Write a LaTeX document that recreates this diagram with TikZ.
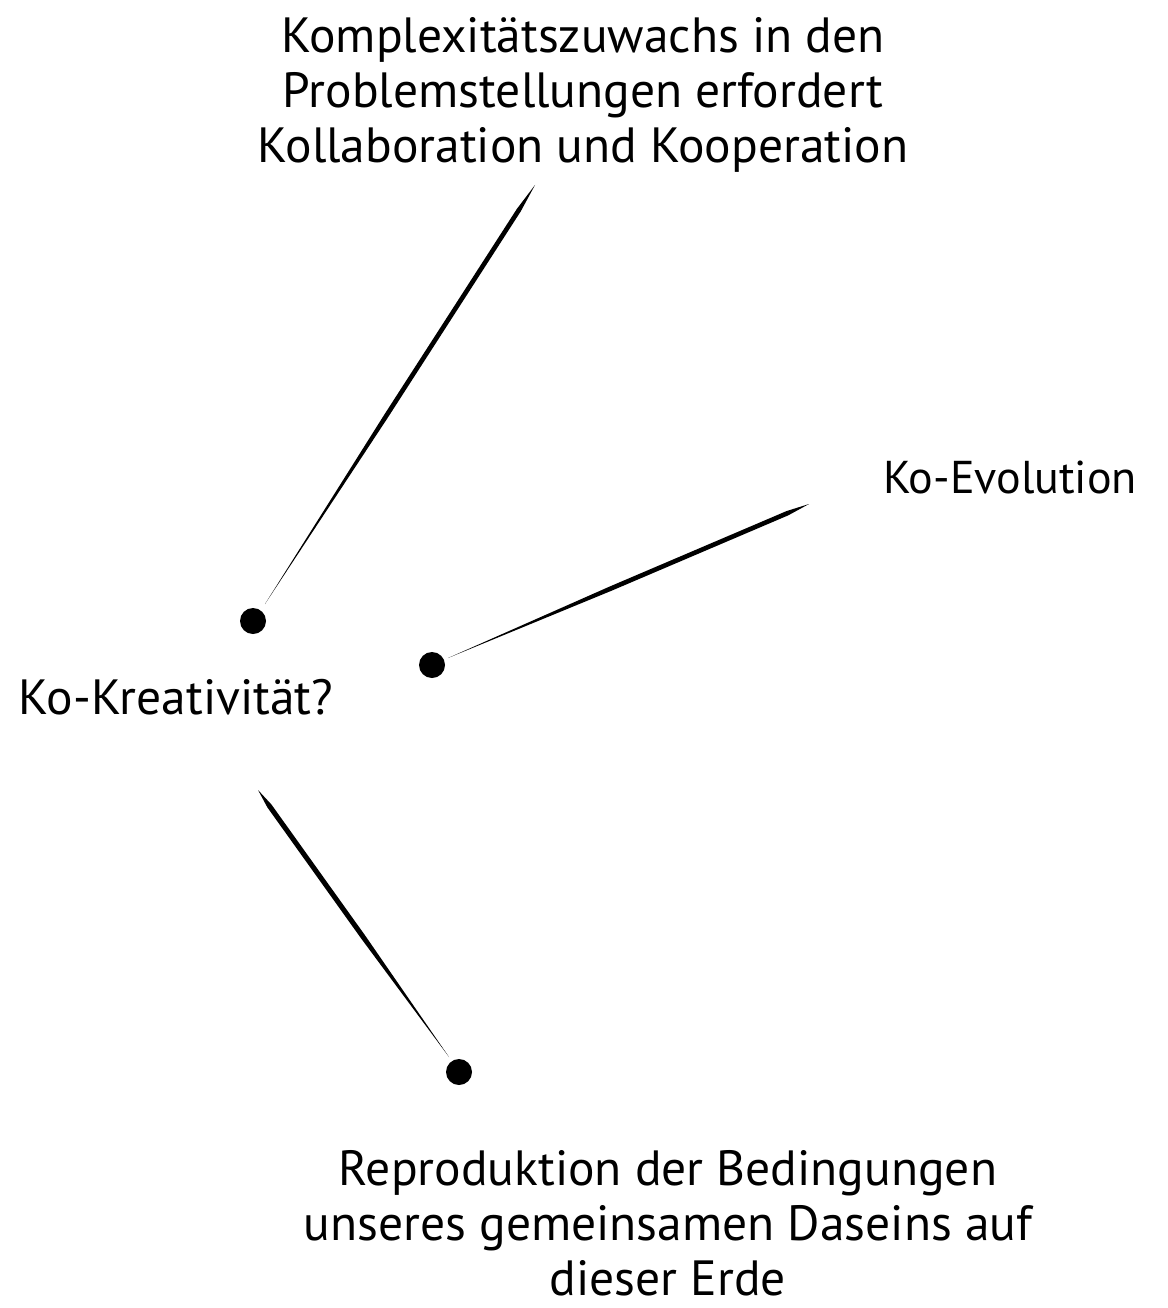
\documentclass[tikz,border=0pt]{standalone}
\usepackage{fontspec}
\setmainfont{PT Sans}
\usetikzlibrary{calc}
\tikzset{
  label/.style={font=\fontsize{49.5}{55}\selectfont, align=center, inner sep=0pt, text=black},
  knob/.style={circle, fill=black, minimum size=26pt, inner sep=0pt},
}
% tapered brush stroke from a blunt start (#1) to a fine tip (#2)
\newcommand{\brush}[3]{%
  \fill[black] (#1)
    -- ($(#1)!0.06!(#2)!#3!90:(#2)$) -- ($(#1)!0.55!(#2)!#3!90:(#2)$)
    -- (#2)
    -- ($(#1)!0.55!(#2)!#3!-90:(#2)$) -- ($(#1)!0.06!(#2)!#3!-90:(#2)$)
    -- cycle;}
\begin{document}
\begin{tikzpicture}[x=1pt,y=-1pt]
  \useasboundingbox (0,0) rectangle (1167,1308);
  \node[label] (top) at (583,95) {Komplexitätszuwachs in den\\Problemstellungen erfordert\\Kollaboration und Kooperation};
  \node[label, font=\fontsize{46}{55}\selectfont] (evo) at (1010,477) {Ko-Evolution};
  \node[label] (krea) at (176,697) {Ko-Kreativität?};
  \node[label] (bot) at (668,1223) {Reproduktion der Bedingungen\\unseres gemeinsamen Daseins auf\\dieser Erde};
  \node[knob] (d1) at (253,621) {};
  \node[knob] (d2) at (432,665) {};
  \node[knob] (d3) at (459,1072) {};
  \coordinate (t1) at (535,185);
  \coordinate (t2) at (809,504);
  \coordinate (t3) at (258,790);
  \coordinate (e1) at (265,604);
  \coordinate (e2) at (448,658);
  \coordinate (e3) at (449,1057);
  \brush{t1}{e1}{2.3pt}
  \brush{t2}{e2}{2.3pt}
  \brush{t3}{e3}{2.5pt}
\end{tikzpicture}
\end{document}
